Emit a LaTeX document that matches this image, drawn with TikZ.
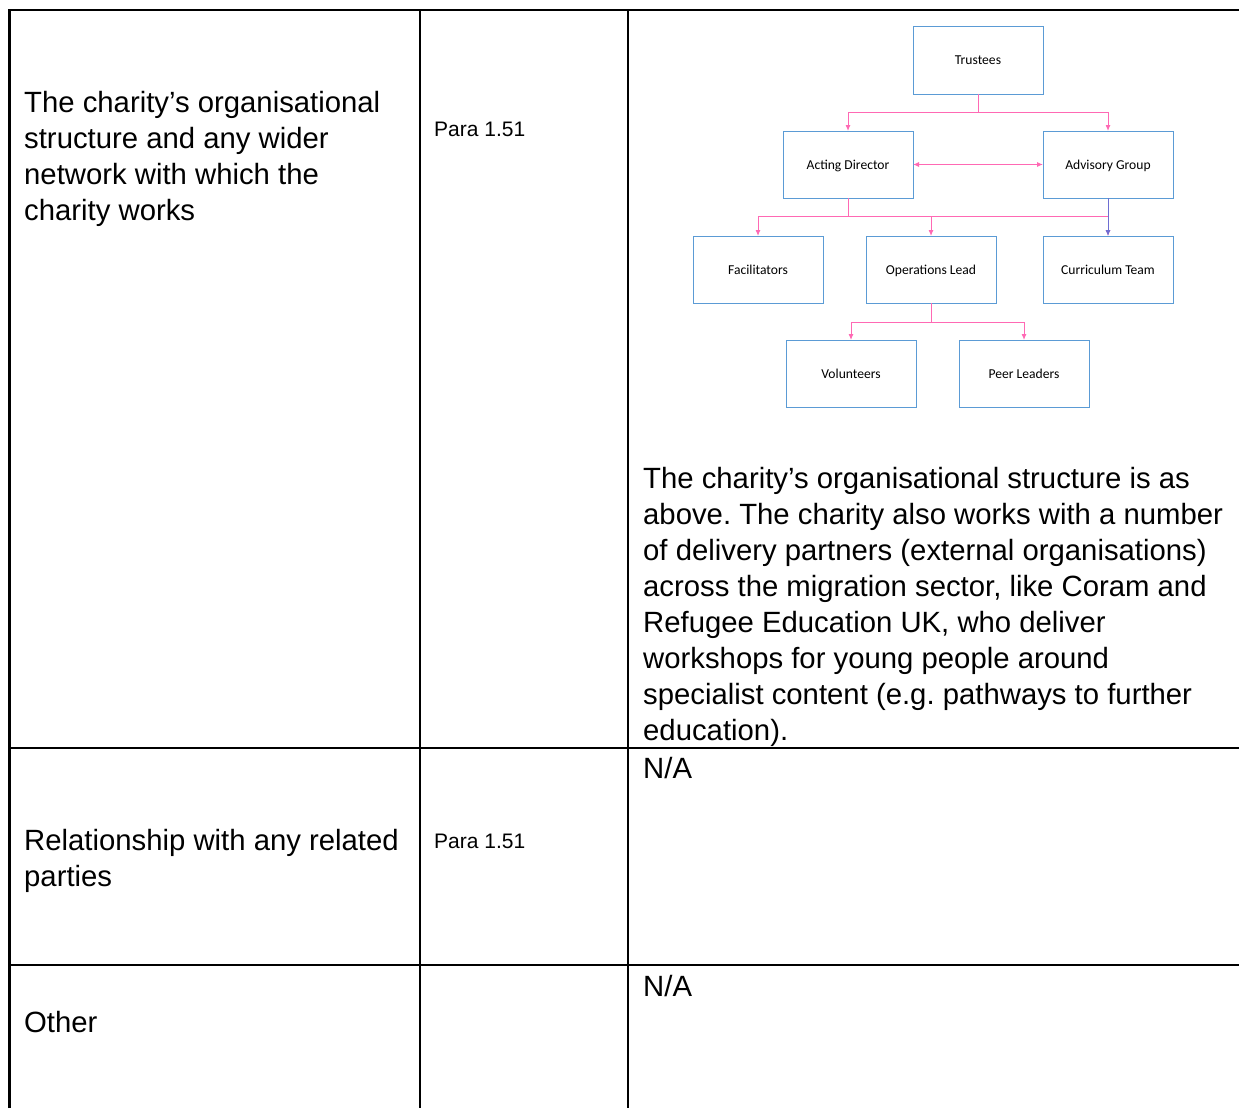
\documentclass[tikz,border=0pt]{standalone}
\usepackage{fontspec}
\setmainfont{Liberation Sans}
\newfontfamily\chartfont{Carlito}
\usetikzlibrary{positioning,arrows.meta}
\frenchspacing

\definecolor{boxblue}{RGB}{91,155,213}
\definecolor{linkpink}{RGB}{255,105,180}
\definecolor{linkpurple}{RGB}{110,110,210}

\tikzset{
    post/.style={draw=boxblue, line width=1pt, minimum width=130pt, minimum height=67pt,
        inner sep=0pt, outer sep=0pt, text depth=0pt, font=\chartfont\fontsize{13.6}{16}\selectfont},
    link/.style={draw=linkpink, line width=1pt, >={Latex[length=6pt,width=5pt]}, ->},
    gridline/.style={line width=2.6pt, black},
    cell/.style={anchor=north west, inner sep=0pt, align=left, font=\fontsize{29.3}{36}\selectfont},
    ref/.style={anchor=base west, inner sep=0pt, font=\fontsize{21}{25}\selectfont}
}

\begin{document}
\begin{tikzpicture}[x=1pt, y=-1pt]
    \useasboundingbox (0,0) rectangle (1239,1108);
    % table
    \draw[gridline] (9.5,1108) -- (9.5,10) -- (1239,10);
    \draw[gridline] (420,10) -- (420,1108);
    \draw[gridline] (628,10) -- (628,1108);
    \draw[gridline] (9.5,748) -- (1239,748);
    \draw[gridline] (9.5,965) -- (1239,965);

    \node[cell] (aspectA) at (24,91) {The charity’s organisational\\structure and any wider\\network with which the\\charity works};
    \node[ref] (paraA) at (434,136) {Para 1.51};
    \node[cell] (answerA) at (643,467) {The charity’s organisational structure is as\\above. The charity also works with a number\\of delivery partners (external organisations)\\across the migration sector, like Coram and\\Refugee Education UK, who deliver\\workshops for young people around\\specialist content (e.g. pathways to further\\education).};

    \node[cell] (aspectB) at (24,829) {Relationship with any related\\parties};
    \node[ref] (paraB) at (434,848) {Para 1.51};
    \node[cell, anchor=base west] (answerB) at (643,778) {N/A};

    \node[cell, anchor=base west] (aspectC) at (24,1032) {Other};
    \node[cell, anchor=base west] (answerC) at (643,996) {N/A};

    % organisation chart
    \node[post] (trustees) at (978,60.5) {Trustees};
    \node[post, below left=37pt and 0pt of trustees] (acting) {Acting Director};
    \node[post, below right=37pt and 0pt of trustees] (advisory) {Advisory Group};
    \node[post, below=38pt of acting, xshift=83pt] (ops) {Operations Lead};
    \node[post, left=43pt of ops] (facil) {Facilitators};
    \node[post, below=38pt of advisory] (curric) {Curriculum Team};
    \node[post, below=37pt of ops, xshift=-80pt] (volun) {Volunteers};
    \node[post, right=43pt of volun] (peer) {Peer Leaders};

    \draw[link] (trustees.south) -- ++(0,18) -| (acting.north);
    \draw[link] (trustees.south) -- ++(0,18) -| (advisory.north);
    \draw[link, <->] (acting.east) -- (advisory.west);
    \draw[link] (acting.south) -- ++(0,18) -| (facil.north);
    \draw[link] (acting.south) -- ++(0,18) -| (ops.north);
    \draw[link] (acting.south) -- ++(0,18) -| (curric.north);
    \draw[link, draw=linkpurple] (advisory.south) -- (curric.north);
    \draw[link] (ops.south) -- ++(0,19) -| (volun.north);
    \draw[link] (ops.south) -- ++(0,19) -| (peer.north);
\end{tikzpicture}
\end{document}
